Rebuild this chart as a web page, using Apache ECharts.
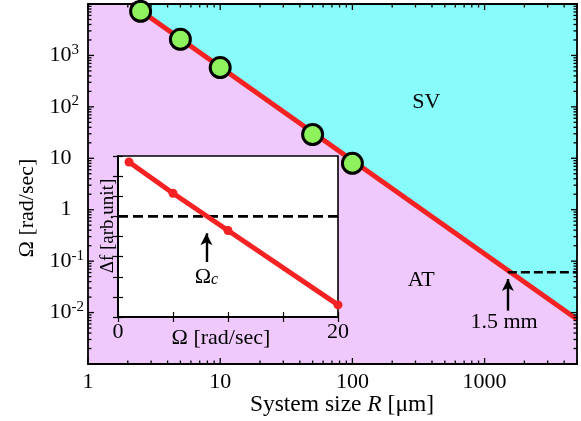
<!DOCTYPE html>
<html><head><meta charset="utf-8">
<script src="https://cdn.jsdelivr.net/npm/echarts@6/dist/echarts.min.js"></script>
<style>html,body{margin:0;padding:0;background:#fff}#c{width:581px;height:421px}</style>
</head><body><div id="c"></div>
<script>
// ---- main panel data ----
const sizeR = [2.5, 5, 10, 50, 100];              // system size R [um]
const omegaMeasured = [7200, 2060, 580, 29, 8.0]; // Omega [rad/sec]
const boundaryR = [2.12, 5000];
const boundaryOmega = [10000, 0.0074];
const markR = [1500, 5000];
const markOmega = [0.0607, 0.0607];
const markArrowOmega = [0.0109, 0.045];
const xTickLabels = ['1', '10', '100', '1000'];
const yTickExponents = [-2, -1, 0, 1, 2, 3];
// ---- inset data ----
const insetOmega = [1, 5, 10, 20];
const insetDf = [7.7, 6.15, 4.3, 0.6];
const insetThreshold = [5, 5];
const insetThresholdX = [0, 20];
const omegaC = 8.04;
const insetArrowDf = [2.73, 4.16];
// ---- annotation anchors (data coords) ----
const labelSV = [362, 124];
const labelAT = [332, 0.0429];
const label15 = [1403, 0.0065];
const labelOc = [8.04, 2.0];

const serif = "'Liberation Serif','Times New Roman',serif";
const X_MIN = 1, X_MAX = 5000, Y_MIN = 1e-3, Y_MAX = 1e4;
const RED = '#F42222', PINK = '#EFC9FB', CYAN = '#88FBFB', GREEN = '#8DF25C';

function logTicks(min, max) {
  const out = [];
  for (let k = Math.floor(Math.log10(min)); k <= Math.ceil(Math.log10(max)); k++) {
    for (let m = 1; m <= 9; m++) {
      const v = m * Math.pow(10, k);
      if (v >= min * 0.9999 && v <= max * 1.0001) out.push([v, m === 1]);
    }
  }
  return out;
}
function isDecade(v) {
  const e = Math.log10(v);
  return Math.abs(e - Math.round(e)) < 1e-6 ? Math.round(e) : null;
}

const chart = echarts.init(document.getElementById('c'), null, {renderer: 'canvas'});
const option = {
  animation: false,
  backgroundColor: '#fff',
  grid: [
    {left: 88, right: 4, top: 4, bottom: 57, show: true, backgroundColor: PINK, borderWidth: 0, z: 0},
    {left: 118, top: 156, width: 220, height: 161, show: true, backgroundColor: '#fff', borderColor: '#000', borderWidth: 1.6, z: 10}
  ],
  xAxis: [
    {type: 'log', gridIndex: 0, min: X_MIN, max: X_MAX, logBase: 10,
     axisLine: {show: false}, axisTick: {show: false}, splitLine: {show: false},
     axisLabel: {margin: 7, fontSize: 22, fontFamily: serif, color: '#000',
       formatter: v => { const e = isDecade(v); return (e !== null && xTickLabels.indexOf(String(Math.pow(10, e))) >= 0) ? String(Math.pow(10, e)) : ''; }}},
    {type: 'value', gridIndex: 1, min: 0, max: 20, interval: 5, z: 11,
     axisLine: {show: true, lineStyle: {color: '#000', width: 1.6}},
     axisTick: {show: true, inside: true, length: 5, lineStyle: {color: '#000', width: 1.2}},
     splitLine: {show: false},
     axisLabel: {margin: 4, fontSize: 22, fontFamily: serif, color: '#000',
       formatter: v => (v === 0 || v === 20) ? String(v) : ''}},
    {type: 'value', gridIndex: 1, min: 0, max: 20, interval: 5, position: 'top', z: 11,
     axisLine: {show: true, lineStyle: {color: '#000', width: 1.6}},
     axisTick: {show: true, inside: true, length: 5, lineStyle: {color: '#000', width: 1.2}},
     splitLine: {show: false}, axisLabel: {show: false}}
  ],
  yAxis: [
    {type: 'log', gridIndex: 0, min: Y_MIN, max: Y_MAX, logBase: 10,
     axisLine: {show: false}, axisTick: {show: false}, splitLine: {show: false},
     axisLabel: {margin: 38.5, align: 'left', color: '#000', fontFamily: serif, fontSize: 22,
       formatter: v => {
         const e = isDecade(v);
         if (e === null || yTickExponents.indexOf(e) < 0) return '';
         if (e === 0) return '{p| }{n|1}';
         if (e === 1) return '{n|10}';
         return '{b|10}{s|' + e + '}';
       },
       rich: {
         n: {fontSize: 22, fontFamily: serif, lineHeight: 22, color: '#000'},
         p: {fontSize: 22, fontFamily: serif, lineHeight: 22, width: 11},
         b: {fontSize: 22, fontFamily: serif, lineHeight: 22, verticalAlign: 'bottom', padding: [10, 0, 0, 0], color: '#000'},
         s: {fontSize: 15, fontFamily: serif, lineHeight: 15, verticalAlign: 'bottom', padding: [0, 0, 9, 0], color: '#000'}
       }}},
    {type: 'value', gridIndex: 1, min: 0, max: 8, interval: 1, z: 11,
     axisLine: {show: true, lineStyle: {color: '#000', width: 1.6}},
     axisTick: {show: true, inside: true, length: 5, lineStyle: {color: '#000', width: 1.2}},
     splitLine: {show: false}, axisLabel: {show: false}},
    {type: 'value', gridIndex: 1, min: 0, max: 8, interval: 1, position: 'right', z: 11,
     axisLine: {show: true, lineStyle: {color: '#000', width: 1.6}},
     axisTick: {show: true, inside: true, length: 5, lineStyle: {color: '#000', width: 1.2}},
     splitLine: {show: false}, axisLabel: {show: false}}
  ],
  series: [
    {type: 'line', xAxisIndex: 0, yAxisIndex: 0, z: 2,
     data: boundaryR.map((r, i) => [r, boundaryOmega[i]]),
     showSymbol: false, lineStyle: {color: RED, width: 5},
     areaStyle: {origin: 'end', color: CYAN, opacity: 1}},
    {type: 'line', xAxisIndex: 0, yAxisIndex: 0, z: 3,
     data: markR.map((r, i) => [r, markOmega[i]]),
     showSymbol: false, lineStyle: {color: '#000', width: 2.6, type: [9, 4]},
     markLine: {silent: true, z: 5, symbol: ['none', 'arrow'], symbolSize: [9, 12], label: {show: false},
       lineStyle: {color: '#000', width: 2.4, type: 'solid'},
       data: [[{coord: [markR[0], markArrowOmega[0]]}, {coord: [markR[0], markArrowOmega[1]]}]]}},
    {type: 'custom', xAxisIndex: 0, yAxisIndex: 0, z: 4, data: [[1, 1]], silent: true,
     renderItem: (params, api) => {
       const bl = api.coord([X_MIN, Y_MIN]), tr = api.coord([X_MAX, Y_MAX]);
       const L = bl[0], B = bl[1], R = tr[0], T = tr[1];
       const st = {stroke: '#000', lineWidth: 1.3};
       const kids = [];
       logTicks(X_MIN, X_MAX).forEach(([v, maj]) => {
         const x = api.coord([v, Y_MIN])[0], len = maj ? 6 : 3.5;
         kids.push({type: 'line', shape: {x1: x, y1: B, x2: x, y2: B - len}, style: st});
         kids.push({type: 'line', shape: {x1: x, y1: T, x2: x, y2: T + len}, style: st});
       });
       logTicks(Y_MIN, Y_MAX).forEach(([v, maj]) => {
         const y = api.coord([X_MIN, v])[1], len = maj ? 6 : 3.5;
         kids.push({type: 'line', shape: {x1: L, y1: y, x2: L + len, y2: y}, style: st});
         kids.push({type: 'line', shape: {x1: R, y1: y, x2: R - len, y2: y}, style: st});
       });
       kids.push({type: 'rect', shape: {x: L, y: T, width: R - L, height: B - T},
         style: {fill: 'none', stroke: '#000', lineWidth: 1.8}});
       return {type: 'group', children: kids};
     }},
    {type: 'scatter', xAxisIndex: 0, yAxisIndex: 0, z: 6, clip: false,
     data: sizeR.map((r, i) => [r, omegaMeasured[i]]),
     symbol: 'circle', symbolSize: 20,
     itemStyle: {color: GREEN, borderColor: '#000', borderWidth: 3, opacity: 1}},
    // inset
    {type: 'line', xAxisIndex: 1, yAxisIndex: 1, z: 12,
     data: insetThresholdX.map((x, i) => [x, insetThreshold[i]]),
     showSymbol: false, lineStyle: {color: '#000', width: 2.8, type: [10, 5]},
     markLine: {silent: true, z: 20, symbol: ['none', 'arrow'], symbolSize: [9, 12], label: {show: false},
       lineStyle: {color: '#000', width: 2.4, type: 'solid'},
       data: [[{coord: [omegaC, insetArrowDf[0]]}, {coord: [omegaC, insetArrowDf[1]]}]]}},
    {type: 'line', xAxisIndex: 1, yAxisIndex: 1, z: 13,
     data: insetOmega.map((x, i) => [x, insetDf[i]]),
     showSymbol: true, showAllSymbol: true, symbol: 'circle', symbolSize: 9,
     lineStyle: {color: RED, width: 5}, itemStyle: {color: RED}}
  ]
};
chart.setOption(option);

const P0 = d => chart.convertToPixel({gridIndex: 0}, d);
const P1 = d => chart.convertToPixel({gridIndex: 1}, d);
const txt = (pos, text, size, extra) => Object.assign({
  type: 'text', x: pos[0], y: pos[1], z: 100,
  style: {text: text, fontSize: size, fontFamily: serif, fill: '#000', align: 'center', verticalAlign: 'middle'}
}, extra || {});
chart.setOption({
  graphic: [
    txt(P0(labelSV), 'SV', 22),
    txt(P0(labelAT), 'AT', 22),
    txt(P0(label15), '1.5 mm', 22),
    {type: 'text', x: P1(labelOc)[0], y: P1(labelOc)[1], z: 100,
     style: {text: '{n|Ω}{c|c}', align: 'center', verticalAlign: 'middle',
       rich: {n: {fontSize: 22, fontFamily: serif, fill: '#000', lineHeight: 22, verticalAlign: 'top'},
              c: {fontSize: 16, fontFamily: serif, fontStyle: 'italic', fill: '#000', lineHeight: 16, verticalAlign: 'bottom'}}}},
    {type: 'text', x: 342, y: 405, z: 100,
     style: {text: '{n|System size }{i|R}{n| [μm]}', align: 'center', verticalAlign: 'middle',
       rich: {n: {fontSize: 23.5, fontFamily: serif, fill: '#000'},
              i: {fontSize: 23.5, fontFamily: serif, fontStyle: 'italic', fill: '#000'}}}},
    txt([27, 208], 'Ω [rad/sec]', 22, {rotation: Math.PI / 2}),
    txt([221, 338], 'Ω [rad/sec]', 22),
    txt([108, 226], 'Δf [arb.unit]', 19, {rotation: Math.PI / 2})
  ]
});
</script>
</body></html>
